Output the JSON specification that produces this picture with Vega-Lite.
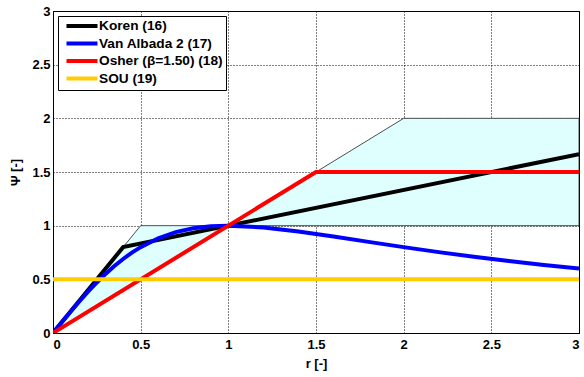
{
  "$schema": "https://vega.github.io/schema/vega-lite/v6.json",
  "autosize": {"type": "none"},
  "padding": {"left": 53, "top": 11, "right": 5, "bottom": 44},
  "width": 526,
  "height": 322,
  "background": "white",
  "config": {
    "font": "Liberation Sans",
    "view": {"stroke": "black", "strokeWidth": 1},
    "axis": {
      "domainColor": "black",
      "tickColor": "black",
      "labelColor": "black",
      "titleColor": "black",
      "labelFont": "Liberation Sans",
      "titleFont": "Liberation Sans",
      "labelFontWeight": "bold",
      "titleFontWeight": "bold",
      "labelFontSize": 13,
      "titleFontSize": 13,
      "format": "~g",
      "grid": true,
      "gridColor": "black",
      "gridDash": [1, 2],
      "gridOpacity": 1,
      "gridWidth": 1,
      "tickSize": 0
    }
  },
  "datasets": {
    "region": [
      {"r": 0, "upper": 0, "lower": 0},
      {"r": 0.5, "upper": 1, "lower": 0.5},
      {"r": 1, "upper": 1, "lower": 1},
      {"r": 2, "upper": 2, "lower": 1},
      {"r": 3, "upper": 2, "lower": 1}
    ],
    "outline": [
      {"i": 0, "r": 0, "psi": 0},
      {"i": 1, "r": 0.5, "psi": 1},
      {"i": 2, "r": 1, "psi": 1},
      {"i": 3, "r": 2, "psi": 2},
      {"i": 4, "r": 3, "psi": 2},
      {"i": 5, "r": 3, "psi": 1},
      {"i": 6, "r": 1, "psi": 1},
      {"i": 7, "r": 0, "psi": 0}
    ],
    "limiters": [
      {"name": "Koren (16)", "r": 0, "psi": 0},
      {"name": "Koren (16)", "r": 0.4, "psi": 0.8},
      {"name": "Koren (16)", "r": 3, "psi": 1.6667},
      {"name": "Van Albada 2 (17)", "r": 0, "psi": 0},
      {"name": "Van Albada 2 (17)", "r": 0.05, "psi": 0.0998},
      {"name": "Van Albada 2 (17)", "r": 0.1, "psi": 0.198},
      {"name": "Van Albada 2 (17)", "r": 0.15, "psi": 0.2934},
      {"name": "Van Albada 2 (17)", "r": 0.2, "psi": 0.3846},
      {"name": "Van Albada 2 (17)", "r": 0.25, "psi": 0.4706},
      {"name": "Van Albada 2 (17)", "r": 0.3, "psi": 0.5505},
      {"name": "Van Albada 2 (17)", "r": 0.35, "psi": 0.6236},
      {"name": "Van Albada 2 (17)", "r": 0.4, "psi": 0.6897},
      {"name": "Van Albada 2 (17)", "r": 0.45, "psi": 0.7484},
      {"name": "Van Albada 2 (17)", "r": 0.5, "psi": 0.8},
      {"name": "Van Albada 2 (17)", "r": 0.6, "psi": 0.8824},
      {"name": "Van Albada 2 (17)", "r": 0.7, "psi": 0.9396},
      {"name": "Van Albada 2 (17)", "r": 0.8, "psi": 0.9756},
      {"name": "Van Albada 2 (17)", "r": 0.9, "psi": 0.9945},
      {"name": "Van Albada 2 (17)", "r": 1.0, "psi": 1.0},
      {"name": "Van Albada 2 (17)", "r": 1.2, "psi": 0.9836},
      {"name": "Van Albada 2 (17)", "r": 1.4, "psi": 0.9459},
      {"name": "Van Albada 2 (17)", "r": 1.6, "psi": 0.8989},
      {"name": "Van Albada 2 (17)", "r": 1.8, "psi": 0.8491},
      {"name": "Van Albada 2 (17)", "r": 2.0, "psi": 0.8},
      {"name": "Van Albada 2 (17)", "r": 2.2, "psi": 0.7534},
      {"name": "Van Albada 2 (17)", "r": 2.4, "psi": 0.7101},
      {"name": "Van Albada 2 (17)", "r": 2.6, "psi": 0.6701},
      {"name": "Van Albada 2 (17)", "r": 2.8, "psi": 0.6335},
      {"name": "Van Albada 2 (17)", "r": 3.0, "psi": 0.6},
      {"name": "Osher (β=1.50) (18)", "r": 0, "psi": 0},
      {"name": "Osher (β=1.50) (18)", "r": 1.5, "psi": 1.5},
      {"name": "Osher (β=1.50) (18)", "r": 3, "psi": 1.5},
      {"name": "SOU (19)", "r": 0, "psi": 0.5},
      {"name": "SOU (19)", "r": 3, "psi": 0.5}
    ]
  },
  "layer": [
    {
      "data": {"name": "region"},
      "mark": {"type": "area", "color": "#DFFFFF", "opacity": 1},
      "encoding": {
        "x": {"field": "r", "type": "quantitative", "scale": {"domain": [0, 3], "nice": false},
              "axis": {"values": [0, 0.5, 1, 1.5, 2, 2.5, 3], "title": "r [-]", "labelPadding": 5, "titlePadding": 6}},
        "y": {"field": "upper", "type": "quantitative", "scale": {"domain": [0, 3], "nice": false},
              "axis": {"values": [0, 0.5, 1, 1.5, 2, 2.5, 3], "title": "Ψ [-]", "labelPadding": 3, "titlePadding": 9}},
        "y2": {"field": "lower"}
      }
    },
    {
      "data": {"name": "outline"},
      "mark": {"type": "line", "color": "#222222", "strokeWidth": 0.8},
      "encoding": {
        "x": {"field": "r", "type": "quantitative"},
        "y": {"field": "psi", "type": "quantitative"},
        "order": {"field": "i"}
      }
    },
    {
      "data": {"name": "limiters"},
      "mark": {"type": "line", "strokeWidth": 4, "clip": true},
      "encoding": {
        "x": {"field": "r", "type": "quantitative"},
        "y": {"field": "psi", "type": "quantitative"},
        "color": {
          "field": "name", "type": "nominal",
          "scale": {
            "domain": ["Koren (16)", "Van Albada 2 (17)", "Osher (β=1.50) (18)", "SOU (19)"],
            "range": ["#000000", "#0000FF", "#FF0000", "#FFCC00"]
          },
          "legend": {
            "title": null,
            "orient": "none",
            "legendX": 5,
            "legendY": 5,
            "strokeColor": "black",
            "fillColor": "white",
            "padding": 3,
            "symbolType": "M-3.1,0L3.1,0",
            "symbolStrokeWidth": 4,
            "symbolSize": 100,
            "symbolOffset": 14,
            "labelFont": "Liberation Sans",
            "labelFontSize": 13.7,
            "labelFontWeight": "bold",
            "labelColor": "black",
            "labelOffset": 10,
            "rowPadding": 1.5
          }
        }
      }
    }
  ]
}
